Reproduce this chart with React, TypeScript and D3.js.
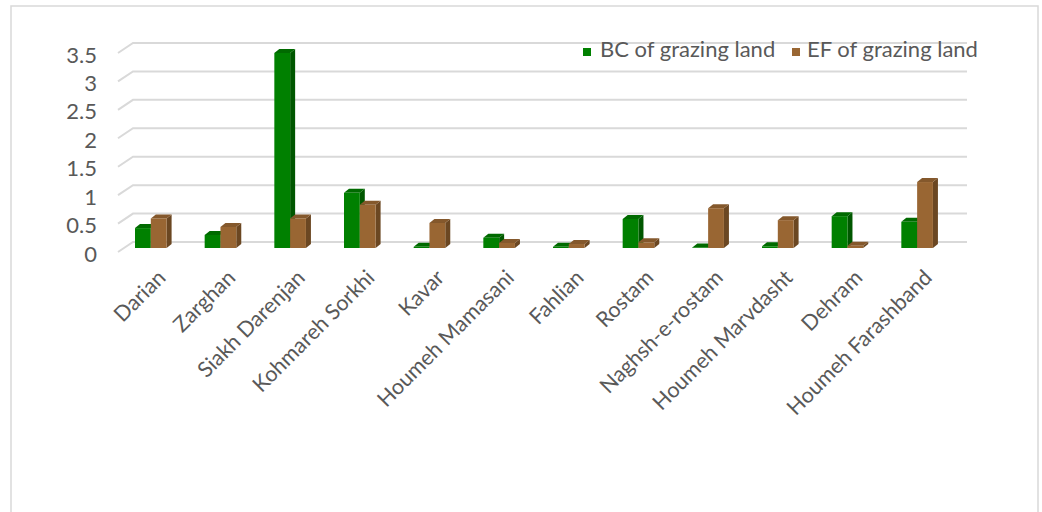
import React from "react";
import * as d3 from "d3";

const categories = [
  "Darian",
  "Zarghan",
  "Siakh Darenjan",
  "Kohmareh Sorkhi",
  "Kavar",
  "Houmeh Mamasani",
  "Fahlian",
  "Rostam",
  "Naghsh-e-rostam",
  "Houmeh Marvdasht",
  "Dehram",
  "Houmeh Farashband",
];
const bcValues = [0.35, 0.23, 3.43, 0.97, 0.02, 0.18, 0.02, 0.51, 0.01, 0.03, 0.56, 0.46];
const efValues = [0.52, 0.37, 0.52, 0.76, 0.44, 0.09, 0.07, 0.1, 0.7, 0.49, 0.04, 1.16];
const yTicks = [0, 0.5, 1, 1.5, 2, 2.5, 3, 3.5];
const seriesNames = ["BC of grazing land", "EF of grazing land"];

const W = 1042;
const H = 512;
const FONT = "Lato, 'Open Sans', sans-serif";
const TEXT = "#595959";
const GRID = "#d9d9d9";

const COLORS = [
  { front: "#008000", side: "#005700", top: "#006a00" },
  { front: "#996633", side: "#6b4722", top: "#84582c" },
];

const DX = 5; // depth offset x
const DY = 4; // depth offset y

function Bar3D({ x, w, y0, y1, c }: { x: number; w: number; y0: number; y1: number; c: any }) {
  const h = Math.max(0, y0 - y1);
  return (
    <g>
      <polygon
        points={`${x + w},${y1} ${x + w + DX},${y1 - DY} ${x + w + DX},${y0 - DY} ${x + w},${y0}`}
        fill={c.side}
      />
      <polygon
        points={`${x},${y1} ${x + DX},${y1 - DY} ${x + w + DX},${y1 - DY} ${x + w},${y1}`}
        fill={c.top}
      />
      <rect x={x} y={y1} width={w} height={h} fill={c.front} />
    </g>
  );
}

export default function App() {
  const x = d3.scaleBand<string>().domain(categories).range([133, 969]).paddingInner(0).paddingOuter(0);
  const y = d3.scaleLinear().domain([0, 3.5]).range([242, 43]);
  const frontOff = 6; // bars' front face below back plane
  const bw = 15.8;

  return (
    <svg
      width={W}
      height={H}
      style={{ position: "absolute", left: 0, top: 0, background: "#fff" }}
      fontFamily={FONT}
    >
      <rect x={0} y={0} width={W} height={H} fill="#fff" />
      <rect x={11} y={6} width={1027} height={520} fill="none" stroke={GRID} strokeWidth={1.5} />

      {/* gridlines */}
      {yTicks.map((t) => (
        <g key={t}>
          <polyline
            points={`118,${y(t) + 10} 133,${y(t)} 967,${y(t)}`}
            fill="none"
            stroke={GRID}
            strokeWidth={2}
          />
          <text
            x={97}
            y={y(t) + 11}
            textAnchor="end"
            dominantBaseline="central"
            fontSize={22}
            fill={TEXT}
          >
            {t}
          </text>
        </g>
      ))}

      {/* bars */}
      {categories.map((cat, i) => {
        const x0 = (x(cat) as number) + 2;
        const base = y(0) + frontOff;
        return (
          <g key={cat}>
            <Bar3D x={x0} w={bw} y0={base} y1={y(bcValues[i]) + frontOff} c={COLORS[0]} />
            <Bar3D x={x0 + bw} w={bw} y0={base} y1={y(efValues[i]) + frontOff} c={COLORS[1]} />
          </g>
        );
      })}

      {/* category labels */}
      {categories.map((cat) => {
        const ex = (x(cat) as number) + 34;
        const ey = 279;
        return (
          <text
            key={cat}
            x={ex}
            y={ey}
            textAnchor="end"
            fontSize={21.5}
            fill={TEXT}
            transform={`rotate(-45, ${ex}, ${ey})`}
          >
            {cat}
          </text>
        );
      })}

      {/* legend */}
      <rect x={583} y={48} width={8} height={8} fill={COLORS[0].front} />
      <text x={600} y={57} fontSize={22} fill={TEXT}>
        {seriesNames[0]}
      </text>
      <rect x={792} y={48} width={8} height={8} fill={COLORS[1].front} />
      <text x={807} y={57} fontSize={22} fill={TEXT}>
        {seriesNames[1]}
      </text>
    </svg>
  );
}
